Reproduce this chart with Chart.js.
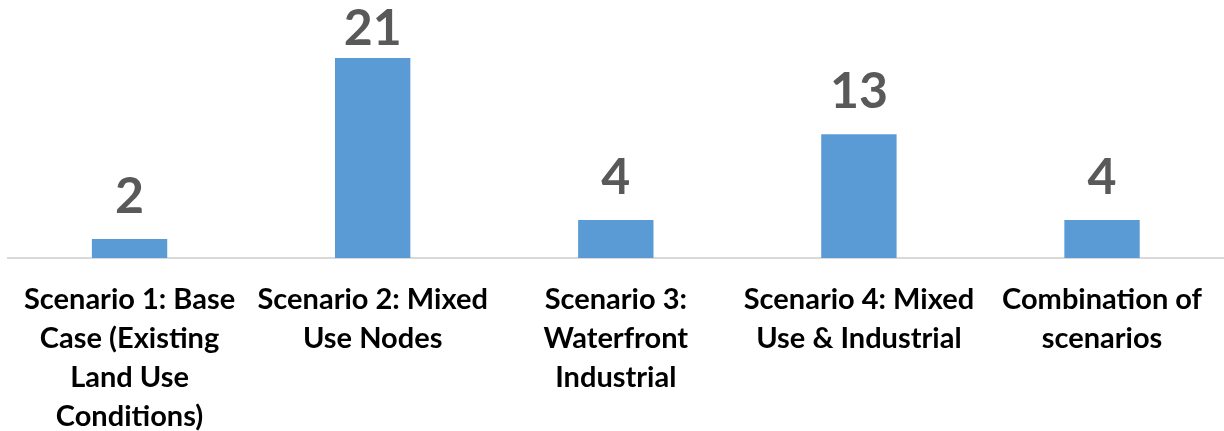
<!DOCTYPE html>
<html>
<head>
<meta charset="utf-8">
<script src="https://cdn.jsdelivr.net/npm/chart.js@4"></script>
<style>
  html, body { margin: 0; padding: 0; background: #fff; }
  #wrap { width: 1224px; height: 431px; }
</style>
</head>
<body>
<div id="wrap"><canvas id="myChart"></canvas></div>
<script>
const categories = [
  ["Scenario 1: Base", "Case (Existing", "Land Use", "Conditions)"],
  ["Scenario 2: Mixed", "Use Nodes"],
  ["Scenario 3:", "Waterfront", "Industrial"],
  ["Scenario 4: Mixed", "Use & Industrial"],
  ["Combination of", "scenarios"]
];
const counts = [2, 21, 4, 13, 4];

// value labels above the bars, kept inside the canvas like the original
const barLabels = {
  id: "barLabels",
  afterDatasetsDraw(chart) {
    const ctx = chart.ctx;
    const meta = chart.getDatasetMeta(0);
    ctx.save();
    ctx.fillStyle = "#595959";
    ctx.font = "bold 50px Lato";
    ctx.textAlign = "center";
    ctx.textBaseline = "alphabetic";
    meta.data.forEach(function (bar, i) {
      const y = Math.max(bar.y - 26, 45);
      ctx.fillText(String(counts[i]), bar.x, y);
    });
    ctx.restore();
  }
};

const config = {
  type: "bar",
  data: {
    labels: categories,
    datasets: [
      {
        data: counts,
        backgroundColor: "#5b9bd5",
        barPercentage: 0.31,
        categoryPercentage: 1
      }
    ]
  },
  options: {
    responsive: false,
    animation: false,
    layout: { padding: { left: 8, right: 0, top: 20, bottom: 0 } },
    plugins: { legend: { display: false }, tooltip: { enabled: false } },
    scales: {
      x: {
        grid: { display: false, drawTicks: false },
        border: { display: true, color: "#d9d9d9", width: 2 },
        ticks: {
          color: "#000",
          font: { family: "Lato", weight: "bold", size: 29, lineHeight: 1.345 },
          padding: 22,
          maxRotation: 0,
          autoSkip: false
        },
        afterFit(scale) { scale.height = 173; }
      },
      y: {
        display: false,
        min: 0,
        max: 25
      }
    }
  },
  plugins: [barLabels]
};

const canvas = document.getElementById("myChart");
canvas.width = 1224;
canvas.height = 431;
new Chart(canvas, config);
</script>
</body>
</html>
